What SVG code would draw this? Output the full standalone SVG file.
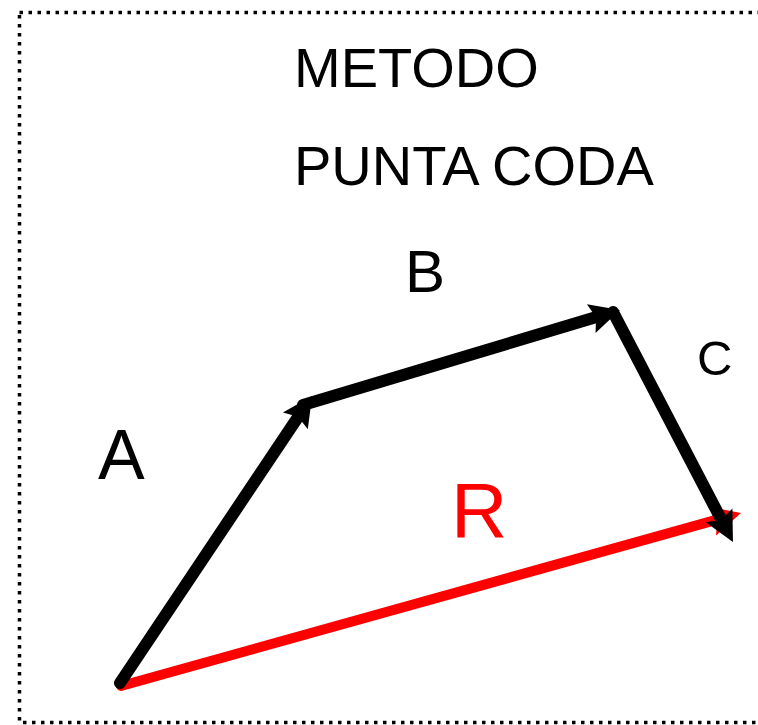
<svg xmlns="http://www.w3.org/2000/svg" width="758" height="725" viewBox="0 0 758 725">
  <style>
    .lbl { font-family: "Liberation Sans", Arial, sans-serif; fill: #000; }
    .vec { fill: none; stroke: #000; stroke-width: 12; stroke-linecap: round; }
    .res { fill: none; stroke: #ff0000; stroke-width: 10; stroke-linecap: round; }
    .frame { fill: none; stroke: #000; stroke-width: 3.5; stroke-dasharray: 3.5 5.5; }
  </style>
  <defs>
    <marker id="headBlack" markerUnits="userSpaceOnUse" markerWidth="40" markerHeight="40" refX="8" refY="0" viewBox="-2 -20 40 40" orient="auto" overflow="visible">
      <path d="M0,-15 L30,0 L0,15 L5,0 Z" fill="#000"/>
    </marker>
    <marker id="headRed" markerUnits="userSpaceOnUse" markerWidth="40" markerHeight="40" refX="8" refY="0" viewBox="-2 -20 40 40" orient="auto" overflow="visible">
      <path d="M0,-15 L30,0 L0,15 L5,0 Z" fill="#ff0000"/>
    </marker>
  </defs>
  <rect width="758" height="725" fill="#fff"/>
  <rect id="frame" class="frame" x="19.5" y="12.5" width="760" height="710"/>

  <g id="title">
    <text class="lbl" x="294" y="87" font-size="56">METODO</text>
    <text class="lbl" x="294" y="185" font-size="56">PUNTA CODA</text>
  </g>

  <g id="connectors">
    <line id="vecR" class="res" x1="121" y1="686" x2="719.8" y2="518.9" marker-end="url(#headRed)"/>
    <line id="vecA" class="vec" x1="120" y1="683" x2="299.8" y2="414.3" marker-end="url(#headBlack)"/>
    <line id="vecB" class="vec" x1="303" y1="405" x2="598.9" y2="316.3" marker-end="url(#headBlack)"/>
    <line id="vecC" class="vec" x1="613" y1="312" x2="722.8" y2="522.5" marker-end="url(#headBlack)"/>
  </g>

  <g id="labelA"><text class="lbl" x="98" y="479" font-size="70">A</text></g>
  <g id="labelB"><text class="lbl" x="405" y="292" font-size="60">B</text></g>
  <g id="labelC"><text class="lbl" x="697" y="375" font-size="49">C</text></g>
  <g id="labelR"><text class="lbl" x="451" y="537" font-size="78" style="fill:#ff0000">R</text></g>
</svg>
